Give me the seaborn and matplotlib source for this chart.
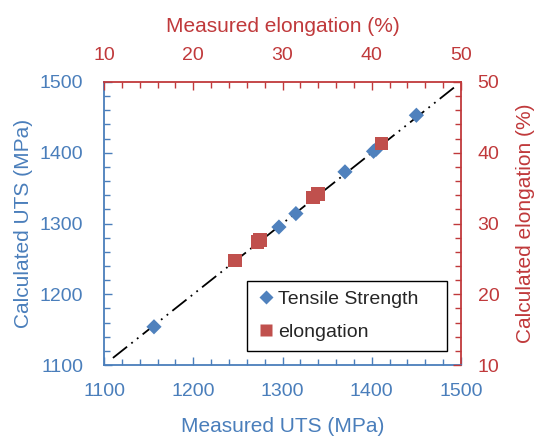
import matplotlib
matplotlib.use("Agg")
import matplotlib.pyplot as plt
import seaborn as sns
import pandas as pd
from matplotlib.ticker import MultipleLocator
from matplotlib.lines import Line2D

# Data
uts_measured = [1156, 1296, 1315, 1370, 1402, 1405, 1450]
uts_calculated = [1154, 1295, 1314, 1373, 1402, 1405, 1453]
elong_measured = [24.7, 27.2, 27.5, 33.4, 34.0, 41.1]
elong_calculated = [24.8, 27.4, 27.7, 33.7, 34.2, 41.3]
line_x = [1110, 1495]
line_y = [1110, 1495]

BLUE = "#4a7ebb"
BLUE_M = "#4f81bd"
RED = "#c0393b"
RED_M = "#c0504d"

sns.set_theme(style="white")
plt.rcParams["font.family"] = ["Liberation Sans", "DejaVu Sans"]

fig = plt.figure(figsize=(5.38, 4.37), dpi=100)
pos = [104 / 538, 1 - 365 / 437, (461 - 104) / 538, (365 - 82) / 437]
ax = fig.add_axes(pos)
ax2 = fig.add_axes(pos, frameon=False)

df_uts = pd.DataFrame({"m": uts_measured, "c": uts_calculated})
df_el = pd.DataFrame({"m": elong_measured, "c": elong_calculated})
df_line = pd.DataFrame({"x": line_x, "y": line_y})

sns.lineplot(data=df_line, x="x", y="y", ax=ax, color="black", lw=1.3,
             dashes=False, zorder=2)
ax.lines[0].set_dashes((10, 3, 1, 3, 1, 3))
sns.scatterplot(data=df_uts, x="m", y="c", ax=ax, marker="D", s=60,
                color=BLUE_M, edgecolor="none", zorder=3)
sns.scatterplot(data=df_el, x="m", y="c", ax=ax2, marker="s", s=95,
                color=RED_M, edgecolor="none", zorder=3)

ax.set_xlim(1100, 1500)
ax.set_ylim(1100, 1500)
ax2.set_xlim(10, 50)
ax2.set_ylim(10, 50)

for a in (ax, ax2):
    a.xaxis.set_major_locator(MultipleLocator(100 if a is ax else 10))
    a.yaxis.set_major_locator(MultipleLocator(100 if a is ax else 10))
    a.xaxis.set_minor_locator(MultipleLocator(20 if a is ax else 2))
    a.yaxis.set_minor_locator(MultipleLocator(20 if a is ax else 2))

ax2.xaxis.tick_top()
ax2.yaxis.tick_right()
ax2.xaxis.set_label_position("top")
ax2.yaxis.set_label_position("right")

ax.tick_params(axis="both", which="both", direction="in", colors=BLUE,
               labelsize=14, top=False, right=False, bottom=True, left=True)
ax.tick_params(axis="x", which="both", pad=13)
ax.tick_params(axis="y", which="both", pad=15)
ax.tick_params(which="major", length=6, width=1)
ax.tick_params(which="minor", length=4, width=1)
ax2.tick_params(axis="both", which="both", direction="in", colors=RED,
                labelsize=14, top=True, right=True, bottom=False, left=False)
ax2.tick_params(axis="x", which="both", pad=13)
ax2.tick_params(axis="y", which="both", pad=12)
ax2.tick_params(which="major", length=6, width=1)
ax2.tick_params(which="minor", length=4, width=1)

for s in ("left", "bottom"):
    ax.spines[s].set_color(BLUE)
    ax.spines[s].set_linewidth(1.3)
for s in ("top", "right"):
    ax.spines[s].set_color(RED)
    ax.spines[s].set_linewidth(1.3)

ax.set_xlabel("Measured UTS (MPa)", color=BLUE, fontsize=15, labelpad=12)
ax.set_ylabel("Calculated UTS (MPa)", color=BLUE, fontsize=15, labelpad=5)
ax2.set_xlabel("Measured elongation (%)", color=RED, fontsize=15, labelpad=11)
ax2.set_ylabel("Calculated elongation (%)", color=RED, fontsize=15, labelpad=12)

handles = [
    Line2D([], [], marker="D", ls="none", color=BLUE_M, markersize=7.5,
           markeredgecolor="none", label="Tensile Strength"),
    Line2D([], [], marker="s", ls="none", color=RED_M, markersize=9,
           markeredgecolor="none", label="elongation"),
]
leg = ax2.legend(handles=handles, loc="lower left",
                 bbox_to_anchor=(0.40, 0.05, 0.56, 0.25), mode="expand",
                 fontsize=14, frameon=True, fancybox=False, edgecolor="black",
                 handletextpad=0.1, handlelength=1.0, borderpad=0.5,
                 labelspacing=0.8, borderaxespad=0)
leg.get_frame().set_linewidth(1.0)
leg.get_frame().set_alpha(1)

fig.savefig("out.png", dpi=100)
